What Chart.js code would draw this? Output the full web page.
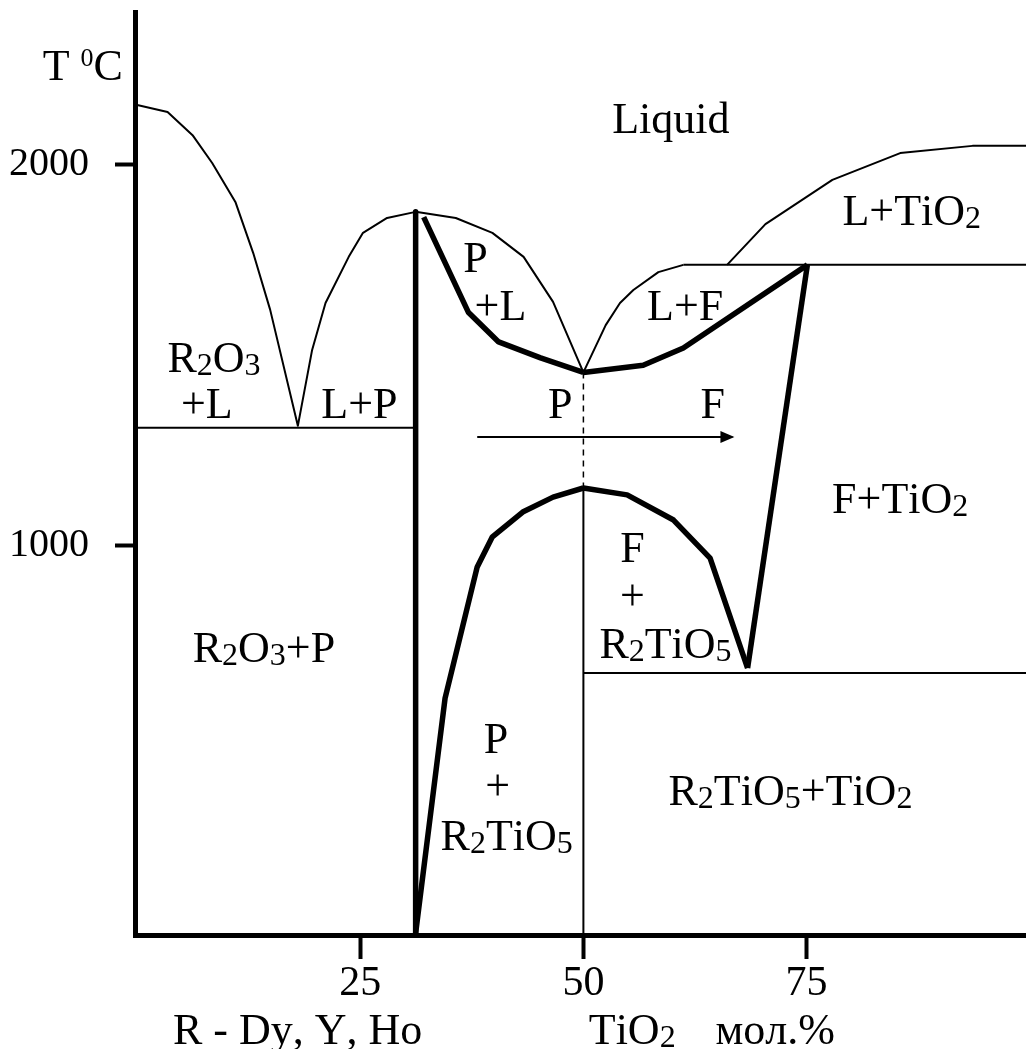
<!DOCTYPE html>
<html>
<head>
<meta charset="utf-8">
<script src="https://cdn.jsdelivr.net/npm/chart.js@4.4.1/dist/chart.umd.min.js"></script>
<style>
  html, body { margin: 0; padding: 0; background: #fff; }
  #wrap { width: 1026px; height: 1049px; position: relative; }
</style>
</head>
<body>
<div id="wrap"><canvas id="diagram"></canvas></div>
<script>
// axis ticks
const xTicks = [25, 50, 75];
const yTicks = [1000, 2000];

// liquidus, R2O3 side (x = mol.% TiO2, y = T, C)
const liqLeftX = [0, 3.4, 6.2, 8.4, 11.0, 13.0, 14.9, 18.0, 19.6, 21.1, 23.7, 25.3, 28.0, 31.2];
const liqLeftY = [2156, 2138, 2077, 2004, 1902, 1768, 1619, 1315, 1514, 1637, 1758, 1821, 1860, 1876];

// eutectic R2O3 + P
const eutLeftX = [0, 31.2];
const eutLeftY = [1310, 1310];

// P compound (vertical)
const pLineX = [31.2, 31.2];
const pLineY = [1876, -20];

// liquidus P -> minimum
const liqPX = [31.2, 35.7, 39.8, 43.3, 46.6, 50];
const liqPY = [1876, 1860, 1821, 1758, 1640, 1455];

// solidus P
const solPX = [32.1, 37.1, 40.5, 45.2, 50];
const solPY = [1862, 1613, 1535, 1493, 1455];

// liquidus F
const liqFX = [50, 52.5, 54.1, 55.6, 58.4, 61.2];
const liqFY = [1455, 1579, 1637, 1671, 1718, 1737];

// solidus F
const solFX = [50, 56.7, 61.2, 75.1];
const solFY = [1455, 1474, 1519, 1737];

// peritectic line
const peritX = [61.2, 100];
const peritY = [1737, 1737];

// liquidus TiO2
const liqTX = [66.1, 70.4, 77.9, 85.5, 93.6, 100];
const liqTY = [1737, 1844, 1960, 2030, 2049, 2049];

// F / F+TiO2 boundary
const fTiX = [75.1, 68.4];
const fTiY = [1737, 680];

// F / F+R2TiO5 boundary
const fR2X = [50, 54.9, 60.1, 64.2, 68.4];
const fR2Y = [1152, 1134, 1068, 968, 680];

// eutectoid line
const eutRightX = [50, 100];
const eutRightY = [667, 667];

// P / P+R2TiO5 boundary
const pR2X = [31.2, 34.5, 38.1, 39.8, 43.2, 46.6, 50];
const pR2Y = [-15, 601, 945, 1024, 1089, 1128, 1152];

// 50 % line, solid below and dashed above
const midX = [50, 50];
const midY = [1152, -20];
const midDashY = [1455, 1152];

// P -> F arrow
const arrowX = [38.1, 66.7];
const arrowY = [1286, 1286];

// region labels: _d = subscript, ^d = superscript
const labelText = ['Liquid', 'L+TiO_2', 'R_2O_3', '+L', 'L+P', 'P', '+L', 'L+F', 'P', 'F',
  'F+TiO_2', 'F', '+', 'R_2TiO_5', 'R_2O_3+P', 'P', '+', 'R_2TiO_5', 'R_2TiO_5+TiO_2'];
const labelX = [59.8, 86.8, 8.6, 7.8, 24.9, 37.9, 40.7, 61.4, 47.4, 64.5,
  85.5, 55.5, 55.5, 59.2, 14.2, 40.2, 40.4, 41.4, 73.2];
const labelY = [2083, 1842, 1456, 1336, 1336, 1718, 1592, 1592, 1336, 1336,
  1086, 958, 832, 706, 696, 457, 334, 203, 321];

// axis captions (left aligned)
const captionText = ['T ^0C', 'R - Dy, Y, Ho', 'TiO_2', 'мол.%'];
const captionX = [-10.6, 4.0, 50.6, 64.8];
const captionY = [2222, -306, -306, -306];

const FONT = "'Liberation Serif', 'Times New Roman', serif";

function pts(xs, ys) {
    return xs.map((x, i) => ({ x: x, y: ys[i] }));
}

function line(xs, ys, width, dash) {
    return {
        data: pts(xs, ys),
        showLine: true,
        borderColor: '#000',
        borderWidth: width,
        borderDash: dash || [],
        borderJoinStyle: 'round',
        pointRadius: 0,
        fill: false,
        tension: 0,
        clip: false
    };
}

// split "R_2O_3" into normal/sub/sup pieces
function parseRich(text) {
    const parts = [];
    for (let i = 0; i < text.length; i++) {
        const c = text[i];
        if ((c === '_' || c === '^') && i + 1 < text.length) {
            parts.push({ t: text[i + 1], mode: c === '_' ? 'sub' : 'sup' });
            i++;
        } else {
            parts.push({ t: c, mode: 'norm' });
        }
    }
    return parts;
}

function drawRich(ctx, text, x, y, size, align) {
    const parts = parseRich(text);
    const fontFor = m => (m === 'norm' ? size : Math.round(size * (m === 'sub' ? 0.72 : 0.6))) + 'px ' + FONT;
    let total = 0;
    parts.forEach(p => {
        ctx.font = fontFor(p.mode);
        p.w = ctx.measureText(p.t).width;
        total += p.w;
    });
    let cx = align === 'center' ? x - total / 2 : x;
    ctx.textAlign = 'left';
    ctx.textBaseline = 'alphabetic';
    parts.forEach(p => {
        ctx.font = fontFor(p.mode);
        let dy = 0;
        if (p.mode === 'sub') dy = size * 0.07;
        if (p.mode === 'sup') dy = -size * 0.32;
        ctx.fillText(p.t, cx, y + dy);
        cx += p.w;
    });
}

const textPlugin = {
    id: 'phaseText',
    afterDatasetsDraw(chart) {
        const ctx = chart.ctx;
        const xs = chart.scales.x, ys = chart.scales.y;
        ctx.save();
        ctx.fillStyle = '#000';

        // arrow head at end of the P -> F arrow
        const ax = xs.getPixelForValue(arrowX[1]);
        const ay = ys.getPixelForValue(arrowY[1]);
        ctx.beginPath();
        ctx.moveTo(ax + 2, ay);
        ctx.lineTo(ax - 12, ay - 6);
        ctx.lineTo(ax - 12, ay + 6);
        ctx.closePath();
        ctx.fill();

        labelText.forEach((t, i) => {
            drawRich(ctx, t, xs.getPixelForValue(labelX[i]), ys.getPixelForValue(labelY[i]), 44, 'center');
        });
        captionText.forEach((t, i) => {
            drawRich(ctx, t, xs.getPixelForValue(captionX[i]), ys.getPixelForValue(captionY[i]), 44, 'left');
        });
        ctx.restore();
    }
};

const ctx = document.getElementById('diagram').getContext('2d');

new Chart(ctx, {
    type: 'scatter',
    data: {
        datasets: [
            line(liqLeftX, liqLeftY, 2),
            line(eutLeftX, eutLeftY, 2),
            line(pLineX, pLineY, 5.5),
            line(liqPX, liqPY, 2),
            line(solPX, solPY, 5.5),
            line(liqFX, liqFY, 2),
            line(solFX, solFY, 5.5),
            line(peritX, peritY, 2),
            line(liqTX, liqTY, 2),
            line(fTiX, fTiY, 5.5),
            line(fR2X, fR2Y, 5.5),
            line(eutRightX, eutRightY, 2),
            line(pR2X, pR2Y, 5.5),
            line(midX, midY, 2),
            line(midX, midDashY, 1.5, [6, 5]),
            line(arrowX, arrowY, 2)
        ]
    },
    options: {
        responsive: true,
        maintainAspectRatio: false,
        animation: false,
        events: [],
        layout: { padding: { top: 12, right: 0, left: 0, bottom: 0 } },
        plugins: {
            legend: { display: false },
            tooltip: { enabled: false }
        },
        scales: {
            x: {
                type: 'linear',
                position: 'bottom',
                min: -0.25,
                max: 99.6,
                afterBuildTicks: s => { s.ticks = xTicks.map(v => ({ value: v })); },
                afterFit: s => { s.height = 114; s.paddingLeft = 0; s.paddingRight = 0; },
                border: { display: true, color: '#000', width: 5 },
                grid: { drawOnChartArea: false, drawTicks: true, tickLength: 24, tickWidth: 4, tickColor: '#000' },
                ticks: { color: '#000', padding: 0, maxRotation: 0, font: { family: FONT, size: 42 },
                    callback: v => String(v) }
            },
            y: {
                type: 'linear',
                position: 'left',
                min: -20,
                max: 2400,
                afterBuildTicks: s => { s.ticks = yTicks.map(v => ({ value: v })); },
                afterFit: s => { s.width = 135; s.paddingTop = 0; s.paddingBottom = 0; },
                border: { display: true, color: '#000', width: 5 },
                grid: { drawOnChartArea: false, drawTicks: true, tickLength: 20, tickWidth: 4, tickColor: '#000' },
                ticks: { color: '#000', padding: 26, font: { family: FONT, size: 40 },
                    callback: v => String(v) }
            }
        }
    },
    plugins: [textPlugin]
});
</script>
</body>
</html>
